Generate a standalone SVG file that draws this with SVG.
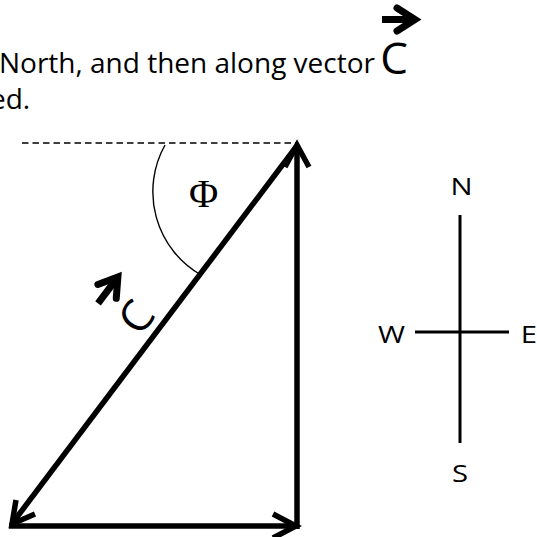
<svg xmlns="http://www.w3.org/2000/svg" width="537" height="537" viewBox="0 0 537 537">
<style>
.txt{font-family:"Open Sans","Liberation Sans",sans-serif;fill:#000}
.phi{font-family:"Liberation Serif","Times New Roman",serif;fill:#000}
.vec{fill:none;stroke:#000;stroke-width:5.5;stroke-linecap:butt;stroke-linejoin:miter}
.head{fill:none;stroke:#000;stroke-width:5.5;stroke-linecap:butt;stroke-linejoin:miter;stroke-miterlimit:10}
.thin{fill:none;stroke:#000;stroke-width:1.4}
.cmp{fill:none;stroke:#000;stroke-width:3}
.lbl{fill:none;stroke:#000;stroke-width:7;stroke-linecap:butt;stroke-linejoin:miter;stroke-miterlimit:10}
.lblh{fill:none;stroke:#000;stroke-width:7;stroke-linecap:round;stroke-linejoin:miter;stroke-miterlimit:10}
</style>
<rect width="537" height="537" fill="#fff"/>
<g id="caption">
<text class="txt" x="-1" y="73" font-size="28">North, and then along vector</text>
<text class="txt" x="-10" y="109" font-size="28">ed.</text>
</g>
<g id="label-C-top" transform="translate(394,58)">
<text class="txt" x="0" y="15.7" font-size="44" text-anchor="middle">C</text>
<path class="lbl" d="M-12,-38.5 L18,-38.5"/>
<path class="lblh" d="M3,-50 L21,-38.5 L3,-27"/>
</g>
<g id="reference-line">
<line class="thin" x1="22" y1="143" x2="297" y2="143" stroke-dasharray="6.5,4"/>
</g>
<g id="angle">
<path class="thin" d="M165,145 A96,96 0 0 0 201,275"/>
<text class="phi" x="203.5" y="207" font-size="40" text-anchor="middle">Φ</text>
</g>
<g id="connectors">
<g id="vector-east">
<line class="vec" x1="9" y1="526" x2="293" y2="526"/>
<path class="head" d="M273,514 L296,526 L273,538"/>
</g>
<g id="vector-north">
<line class="vec" x1="297" y1="529" x2="297" y2="149"/>
<path class="head" d="M285,167 L297,145 L309,167"/>
</g>
<g id="vector-C">
<line class="vec" x1="296" y1="147" x2="14" y2="521"/>
<path class="head" d="M16,500 L12,524 L35,514"/>
</g>
</g>
<g id="label-C-diag" transform="translate(136,317) rotate(-53)">
<text class="txt" x="0" y="15.7" font-size="44" text-anchor="middle">C</text>
<path class="lbl" d="M-12,-38.5 L18,-38.5"/>
<path class="lblh" d="M3,-50 L21,-38.5 L3,-27"/>
</g>
<g id="compass">
<line class="cmp" x1="460" y1="215" x2="460" y2="443"/>
<line class="cmp" x1="415" y1="332" x2="509" y2="332"/>
<text class="txt" transform="translate(461.5,195) scale(1.22,1)" font-size="24" text-anchor="middle">N</text>
<text class="txt" transform="translate(391.5,343) scale(1.22,1)" font-size="24" text-anchor="middle">W</text>
<text class="txt" transform="translate(529,343) scale(1.22,1)" font-size="24" text-anchor="middle">E</text>
<text class="txt" transform="translate(460,481.5) scale(1.22,1)" font-size="24" text-anchor="middle">S</text>
</g>
</svg>
